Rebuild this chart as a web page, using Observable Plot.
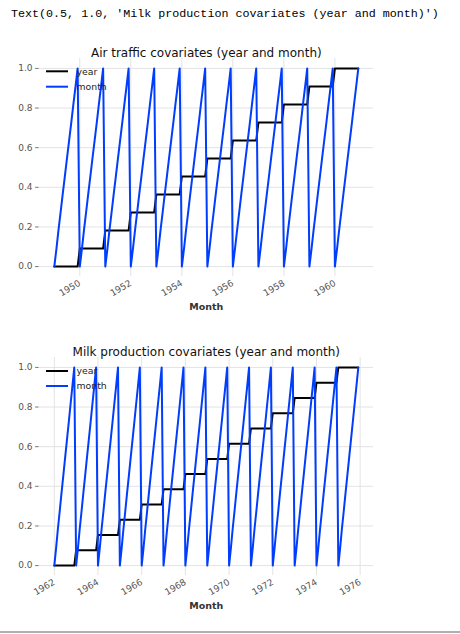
<!DOCTYPE html>
<html><head><meta charset="utf-8">
<script src="https://cdn.jsdelivr.net/npm/d3@7"></script>
<script src="https://cdn.jsdelivr.net/npm/@observablehq/plot@0.6"></script>
<style>
body{margin:0;background:#fff;width:460px;height:634px;position:relative;overflow:hidden;font-family:"DejaVu Sans",sans-serif}
#out{position:absolute;left:11px;top:7px;font-family:"Liberation Mono","DejaVu Sans Mono",monospace;font-size:11.7px;line-height:14px;color:#000;white-space:pre}
.chart{position:absolute;left:0}
.legend{position:absolute;left:46px;width:80px;height:40px}
.legend svg{overflow:visible}
.hr{position:absolute;left:0;top:631px;width:460px;height:2px;background:#b0b0b0}
</style></head><body>
<div id="out">Text(0.5, 1.0, 'Milk production covariates (year and month)')</div>
<div id="c1" class="chart" style="top:28px"></div>
<div id="c2" class="chart" style="top:327px"></div>
<div class="legend" style="top:63px"><svg width="80" height="40">
<line x1="0" x2="22" y1="8.3" y2="8.3" stroke="#000" stroke-width="2"/>
<text x="30.5" y="11.5" font-size="9.3" fill="#222">year</text>
<line x1="0" x2="22" y1="23.7" y2="23.7" stroke="#003DFD" stroke-width="2"/>
<text x="30.5" y="27" font-size="9.3" fill="#222">month</text></svg></div>
<div class="legend" style="top:363px"><svg width="80" height="40">
<line x1="0" x2="22" y1="8" y2="8" stroke="#000" stroke-width="2"/>
<text x="30.5" y="11.2" font-size="9.3" fill="#222">year</text>
<line x1="0" x2="22" y1="23" y2="23" stroke="#003DFD" stroke-width="2"/>
<text x="30.5" y="26.3" font-size="9.3" fill="#222">month</text></svg></div>
<div class="hr"></div>
<script>
const airYears = [1949,1950,1951,1952,1953,1954,1955,1956,1957,1958,1959,1960];
const airYearValues = [0.0,0.091,0.182,0.273,0.364,0.455,0.545,0.636,0.727,0.818,0.909,1.0];
const milkYears = [1962,1963,1964,1965,1966,1967,1968,1969,1970,1971,1972,1973,1974,1975];
const milkYearValues = [0.0,0.077,0.154,0.231,0.308,0.385,0.462,0.538,0.615,0.692,0.769,0.846,0.923,1.0];
const monthValues = [0.0,0.091,0.182,0.273,0.364,0.455,0.545,0.636,0.727,0.818,0.909,1.0];
const airTickYears = [1950,1952,1954,1956,1958,1960];
const milkTickYears = [1962,1964,1966,1968,1970,1972,1974,1976];
const yTicks = [0.0,0.2,0.4,0.6,0.8,1.0];

function rowsFor(years, yearValues){
  const rows = [];
  years.forEach((y,i)=>monthValues.forEach((mv,m)=>rows.push({date:new Date(Date.UTC(y,m,1)), year:yearValues[i], month:mv})));
  return rows;
}
function chart(years, yearValues, tickYears, title){
  const rows = rowsFor(years, yearValues);
  const t0 = rows[0].date.getTime(), t1 = rows[rows.length-1].date.getTime();
  const pad = (t1-t0)*0.05;
  const ticks = tickYears.map(y=>new Date(Date.UTC(y,0,1)));
  const fmt = d=>d.toFixed(1);
  return Plot.plot({
    width:460, height:300,
    marginLeft:38.6, marginRight:87, marginTop:30, marginBottom:52,
    style:{fontFamily:"DejaVu Sans", fontSize:"9px", color:"#555", background:"transparent", overflow:"visible"},
    x:{type:"utc", domain:[new Date(t0-pad), new Date(t1+pad)], label:null},
    y:{domain:[-0.05,1.05], label:null},
    marks:[
      Plot.gridX(ticks,{stroke:"#e3e3e3", strokeOpacity:1, strokeWidth:1}),
      Plot.gridY(yTicks,{stroke:"#e3e3e3", strokeOpacity:1, strokeWidth:1}),
      Plot.axisY(yTicks,{tickSize:3.5, tickPadding:3, tickFormat:fmt, stroke:"#777", fill:"#555", label:null}),
      Plot.axisX(ticks,{tickSize:0, tickPadding:6, tickRotate:-30, tickFormat:d3.utcFormat("%Y"), fill:"#555", label:null}),
      Plot.line(rows,{x:"date", y:"year", stroke:"#000", strokeWidth:2}),
      Plot.line(rows,{x:"date", y:"month", stroke:"#003DFD", strokeWidth:2}),
      Plot.text([title],{frameAnchor:"top", dy:-10, fontSize:12, fill:"#111", fontFamily:"DejaVu Sans"}),
      Plot.text(["Month"],{frameAnchor:"bottom", dy:33, fontSize:9.5, fontWeight:"bold", fill:"#333"})
    ]
  });
}
document.getElementById("c1").append(chart(airYears, airYearValues, airTickYears, "Air traffic covariates (year and month)"));
document.getElementById("c2").append(chart(milkYears, milkYearValues, milkTickYears, "Milk production covariates (year and month)"));
</script>
</body></html>
